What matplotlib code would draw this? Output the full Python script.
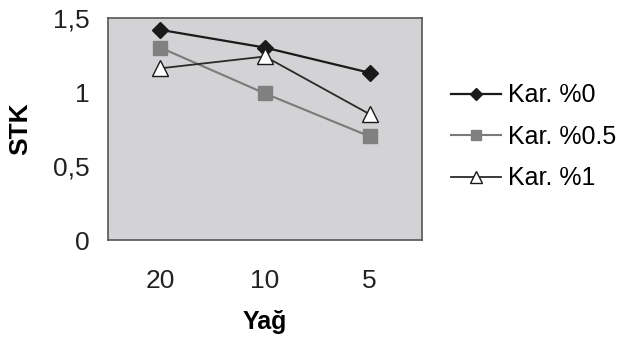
import matplotlib
matplotlib.use("Agg")
import matplotlib.pyplot as plt

categories = ["20", "10", "5"]
kar0 = [1.42, 1.30, 1.13]
kar05 = [1.30, 0.99, 0.70]
kar1 = [1.16, 1.24, 0.85]
yticks = [0, 0.5, 1, 1.5]
ytick_labels = ["0", "0,5", "1", "1,5"]

plt.rcParams['font.family'] = ['Liberation Sans', 'DejaVu Sans']

fig = plt.figure(figsize=(6.31, 3.52), dpi=100)
fig.patch.set_facecolor('white')
ax = fig.add_axes([108/631, 112/352, 314/631, 222/352])
ax.set_facecolor('#d3d3d5')

x = list(range(len(categories)))
ax.plot(x, kar0, color='#1a1a1a', lw=1.6, marker='D', ms=8, mfc='#1a1a1a', mec='#1a1a1a', label='Kar. %0')
ax.plot(x, kar05, color='#7a7a7a', lw=1.5, marker='s', ms=10, mfc='#808080', mec='#808080', label='Kar. %0.5')
ax.plot(x, kar1, color='#2a2a2a', lw=1.3, marker='^', ms=11, mfc='white', mec='#1a1a1a', label='Kar. %1')

ax.set_xlim(-0.5, 2.5)
ax.set_ylim(0, 1.5)
ax.set_xticks(x)
ax.set_xticklabels(categories, fontsize=19, color='#222222')
ax.set_yticks(yticks)
ax.set_yticklabels(ytick_labels, fontsize=19, color='#222222')
ax.tick_params(length=0)
ax.tick_params(axis='y', pad=13)
ax.tick_params(axis='x', pad=21)
for s in ax.spines.values():
    s.set_color('#555555')
    s.set_linewidth(1.2)

ax.set_xlabel('Yağ', fontsize=18, fontweight='bold', labelpad=12)
ax.set_ylabel('STK', fontsize=19, fontweight='bold', labelpad=15)

leg = ax.legend(loc='center left', bbox_to_anchor=(1.022, 0.464), frameon=False,
                fontsize=18, handlelength=2.0, handletextpad=0.25, labelspacing=0.7,
                markerscale=0.75)

fig.savefig('out.png', dpi=100)
